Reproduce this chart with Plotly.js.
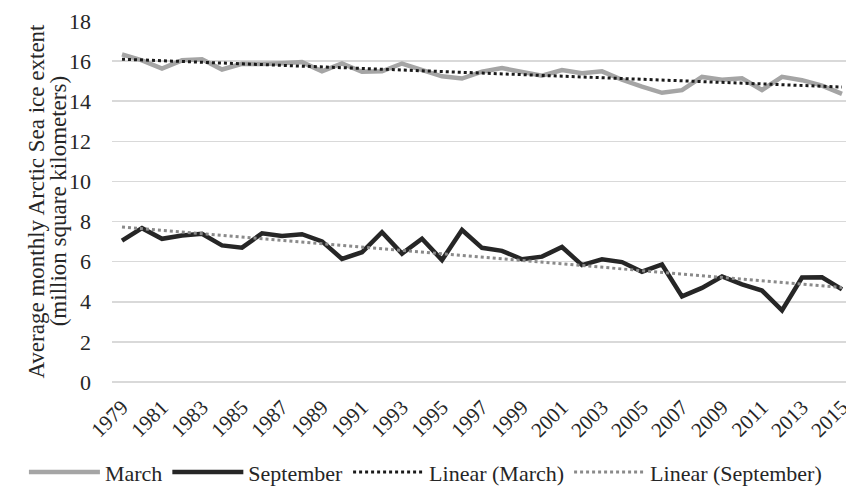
<!DOCTYPE html>
<html>
<head>
<meta charset="utf-8">
<script src="https://cdn.plot.ly/plotly-3.0.1.min.js"></script>
<style>
  html, body { margin: 0; padding: 0; background: #fff; }
  #chart { width: 846px; height: 487px; }
</style>
</head>
<body>
<div id="chart"></div>
<script>
// Average monthly Arctic sea ice extent, million km²
const years = [];
for (let y = 1979; y <= 2015; y++) years.push(y);

const march = [16.34, 16.04, 15.63, 16.04, 16.09, 15.58, 15.87, 15.85, 15.89, 15.95,
               15.49, 15.88, 15.47, 15.49, 15.88, 15.56, 15.24, 15.13, 15.47, 15.65,
               15.47, 15.27, 15.55, 15.40, 15.49, 15.07, 14.73, 14.42, 14.55, 15.21,
               15.07, 15.14, 14.56, 15.22, 15.05, 14.78, 14.37];

const september = [7.05, 7.67, 7.14, 7.30, 7.39, 6.81, 6.70, 7.41, 7.28, 7.37,
                   7.01, 6.14, 6.47, 7.47, 6.40, 7.14, 6.08, 7.58, 6.69, 6.54,
                   6.12, 6.25, 6.73, 5.83, 6.12, 5.98, 5.50, 5.86, 4.27, 4.69,
                   5.26, 4.87, 4.56, 3.57, 5.21, 5.22, 4.62];

const tickYears = years.filter((y, i) => i % 2 === 0);

// Two-line y-axis title, one annotation per line for tight line spacing
const yTitleLines = ['Average monthly Arctic Sea ice extent', '(million square kilometers)'];

// Least-squares trend line through a series
function linearFit(xs, ys) {
  const n = xs.length;
  const mx = xs.reduce((a, b) => a + b, 0) / n;
  const my = ys.reduce((a, b) => a + b, 0) / n;
  let sxy = 0, sxx = 0;
  for (let i = 0; i < n; i++) {
    sxy += (xs[i] - mx) * (ys[i] - my);
    sxx += (xs[i] - mx) * (xs[i] - mx);
  }
  const slope = sxy / sxx;
  return xs.map(x => my + slope * (x - mx));
}

const serif = 'Liberation Serif, Times New Roman, serif';
const ink = '#262626';

const traces = [
  { x: years, y: march, name: 'March', mode: 'lines',
    line: { color: '#a5a5a5', width: 4.5 } },
  { x: years, y: september, name: 'September', mode: 'lines',
    line: { color: ink, width: 4.5 } },
  { x: years, y: linearFit(years, march), name: 'Linear (March)', mode: 'lines',
    line: { color: '#1a1a1a', width: 3, dash: 'dot' } },
  { x: years, y: linearFit(years, september), name: 'Linear (September)', mode: 'lines',
    line: { color: '#8a8a8a', width: 3, dash: 'dot' } }
];

const titleX = [-0.1035, -0.0725];

const layout = {
  width: 846, height: 487,
  margin: { l: 112, r: 0, t: 21, b: 105, autoexpand: false },
  paper_bgcolor: '#fff', plot_bgcolor: '#fff',
  font: { family: serif, size: 22, color: ink },
  showlegend: true,
  legend: {
    orientation: 'h', xref: 'paper', yref: 'paper',
    x: -0.12, xanchor: 'left', y: -0.25, yanchor: 'middle',
    font: { family: serif, size: 22, color: ink },
    itemwidth: 71, tracegroupgap: 0, borderwidth: 0
  },
  xaxis: {
    range: [1978.5, 2015.2], automargin: false,
    tickmode: 'array', tickvals: tickYears, ticktext: tickYears.map(String),
    tickangle: -45, showgrid: false, zeroline: false,
    showline: false, ticks: '', ticklabeloverflow: 'allow',
    ticklabelstandoff: 8,
    tickfont: { family: serif, size: 21, color: ink }
  },
  yaxis: {
    range: [0, 18], dtick: 2, tick0: 0, automargin: false,
    showgrid: true, gridcolor: '#d9d9d9', gridwidth: 1.5,
    zeroline: true, zerolinecolor: '#d9d9d9', zerolinewidth: 1.5,
    showline: false, ticks: '',
    ticklabelstandoff: 20,
    tickfont: { family: serif, size: 22, color: ink }
  },
  annotations: yTitleLines.map((t, i) => ({
    text: t, textangle: -90, showarrow: false,
    xref: 'paper', yref: 'paper', x: titleX[i], y: 0.5,
    xanchor: 'center', yanchor: 'middle',
    font: { family: serif, size: 23, color: ink }
  }))
};

Plotly.newPlot('chart', traces, layout, { displayModeBar: false, staticPlot: true });
</script>
</body>
</html>
